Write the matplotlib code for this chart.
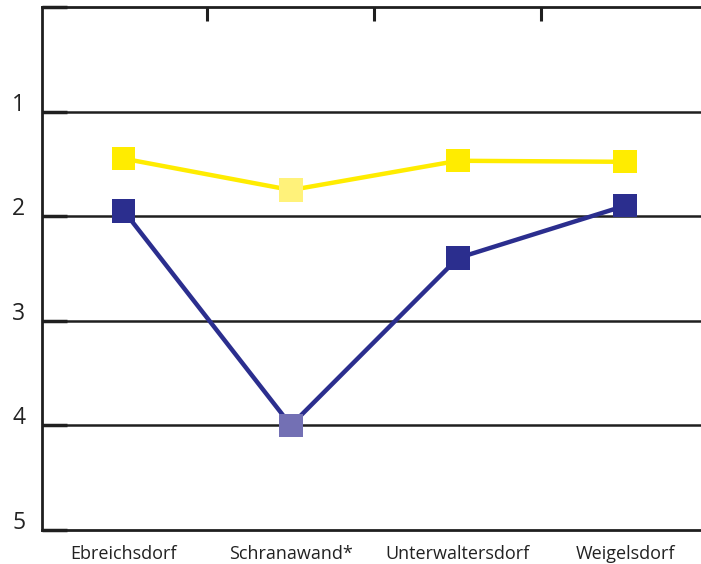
import matplotlib.pyplot as plt
import matplotlib.transforms as mtransforms

# data
places = ['Ebreichsdorf', 'Schranawand*', 'Unterwaltersdorf', 'Weigelsdorf']
yellow_vals = [1.45, 1.75, 1.47, 1.48]
blue_vals = [1.95, 4.0, 2.40, 1.90]
y_ticks = [0, 1, 2, 3, 4, 5]
y_labels = ['', '1', '2', '3', '4', '5']
highlight = 1  # Schranawand* gets lighter markers

YELLOW = '#FFEC00'
YELLOW_LIGHT = '#FFF27A'
BLUE = '#2B2E8E'
BLUE_LIGHT = '#7370B4'
DARK = '#1f1f1f'

plt.rcParams['font.family'] = ['Open Sans', 'DejaVu Sans']

fig = plt.figure(figsize=(7.01, 5.64), dpi=100)
ax = fig.add_axes([42 / 701, 34 / 564, (701 - 42) / 701, (530 - 7) / 564])

x = list(range(len(places)))


def draw(vals, col, col_light):
    ax.plot(x, vals, color=col, lw=3.2, zorder=3, solid_joinstyle='miter')
    cols = [col_light if i == highlight else col for i in x]
    ax.scatter(x, vals, marker='s', s=280, c=cols, linewidths=0, zorder=4)


draw(yellow_vals, YELLOW, YELLOW_LIGHT)
draw(blue_vals, BLUE, BLUE_LIGHT)

# horizontal grid lines
for v in y_ticks[1:-1]:
    ax.axhline(v, color=DARK, lw=1.8, zorder=2)

ax.set_ylim(5, 0)
ax.set_xlim(-0.49, 3.455)

ax.spines['right'].set_visible(False)
for side in ['left', 'top', 'bottom']:
    ax.spines[side].set_color(DARK)
    ax.spines[side].set_linewidth(2)

ax.set_yticks(y_ticks, y_labels)
ax.tick_params(axis='y', direction='in', length=18, width=2.5, color=DARK,
               labelsize=16.5, pad=12, labelcolor='#222222')
offset = mtransforms.ScaledTranslation(0, 10 / 100, fig.dpi_scale_trans)
for lab in ax.get_yticklabels():
    lab.set_transform(lab.get_transform() + offset)

ax.set_xticks(x, places)
ax.tick_params(axis='x', which='major', length=0, labelsize=13, pad=11,
               labelcolor='#222222')
ax.set_xticks([0.5, 1.5, 2.5], minor=True)
ax.tick_params(axis='x', which='minor', top=True, bottom=False,
               direction='in', length=10, width=2.2, color=DARK)

fig.savefig('out.png', dpi=100)
